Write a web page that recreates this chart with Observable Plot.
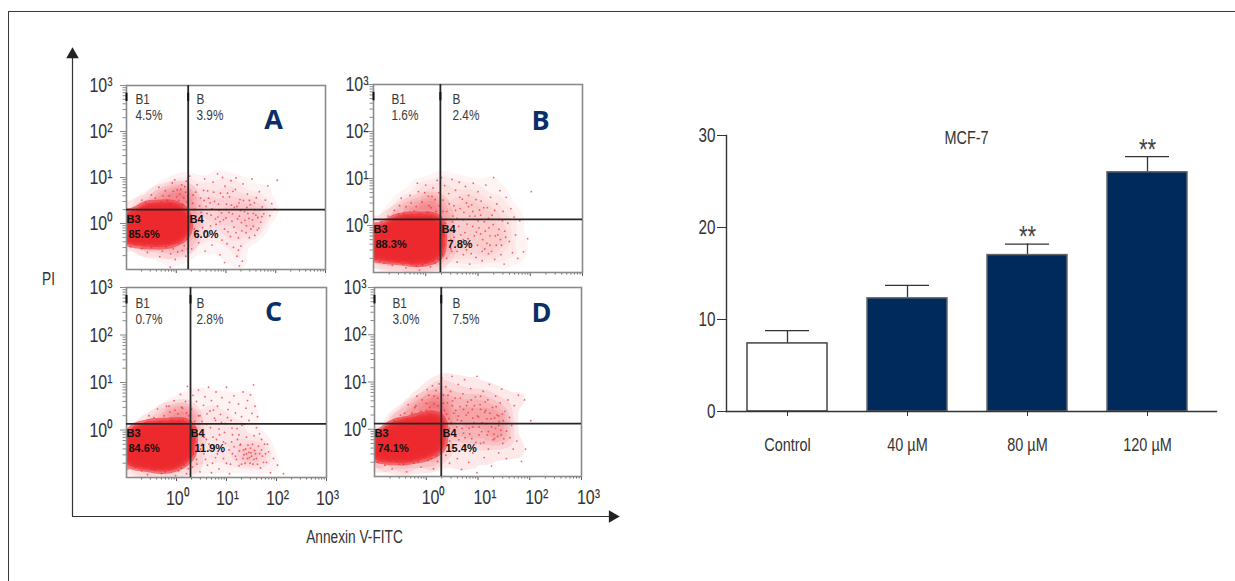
<!DOCTYPE html>
<html><head><meta charset="utf-8">
<script src="https://cdn.jsdelivr.net/npm/d3@7"></script>
<script src="https://cdn.jsdelivr.net/npm/@observablehq/plot@0.6"></script>
<style>
html,body{margin:0;padding:0;background:#fff;width:1235px;height:581px;overflow:hidden}
#stage{position:relative;width:1235px;height:581px;overflow:hidden}
#border{position:absolute;left:8px;top:11px;width:1300px;height:700px;border-left:1.2px solid #3a3a3a;border-top:1.2px solid #3a3a3a}
</style></head><body><div id="stage"><div id="border"></div></div>
<script>
// --- bar chart values ---
const groups = ["Control","40 µM","80 µM","120 µM"];
const means = [7.4,12.3,17.0,26.0];
const upper = [8.8,13.7,18.2,27.7];
const stars = ["","","**","**"];
const barTicks = [0,10,20,30];
// --- flow cytometry axes ---
const decades = [1,10,100,1000];
const decadeLabels = ["10⁰","10¹","10²","10³"];
const logMinor = [.2,.3,.4,.5,.6,.7,.8,.9,2,3,4,5,6,7,8,9,20,30,40,50,60,70,80,90,200,300,400,500,600,700,800,900];
// --- quadrant percentages (B1, B, B3, B4) ---
const pctA = ["4.5%","3.9%","85.6%","6.0%"];
const pctB = ["1.6%","2.4%","88.3%","7.8%"];
const pctC = ["0.7%","2.8%","84.6%","11.9%"];
const pctD = ["3.0%","7.5%","74.1%","15.4%"];
// --- quadrant gates, as decades ---
const gateA = [.24,.30], gateB = [.28,.13], gateC = [.28,.13], gateD = [.29,.12];
// --- events of the saturated population, as decades ---
const coreA = [[-1.15,-.15],[-1.15,.02],[-.95,-.2],[-.95,0],[-.78,-.24],[-.78,0],[-.6,-.24],[-.6,.04],[-.6,.2],[-.42,-.26],[-.42,-.03],[-.42,.2],[-.24,-.26],[-.24,-.03],[-.24,.22],[-.07,-.22],[-.07,.02],[-.07,.22],[.06,-.12],[.06,.1]];
const coreB = [[-1.15,-.45],[-1.15,-.25],[-.95,-.48],[-.95,-.25],[-.76,-.5],[-.76,-.25],[-.58,-.55],[-.58,-.3],[-.58,-.06],[-.4,-.55],[-.4,-.28],[-.4,-.02],[-.22,-.58],[-.22,-.3],[-.22,-.03],[-.04,-.58],[-.04,-.3],[-.04,-.03],[.14,-.5],[.14,-.25],[.14,-.02]];
const coreC = [[-.92,-.5],[-.92,-.3],[-.75,-.55],[-.75,-.3],[-.75,-.12],[-.56,-.6],[-.56,-.32],[-.56,-.07],[-.38,-.62],[-.38,-.35],[-.38,-.07],[-.2,-.62],[-.2,-.35],[-.2,-.07],[-.02,-.58],[-.02,-.3],[-.02,-.04],[.14,-.45],[.14,-.2],[.14,-.02]];
const coreD = [[-.94,-.42],[-.94,-.28],[-.76,-.46],[-.76,-.24],[-.58,-.47],[-.58,-.24],[-.58,-.04],[-.4,-.47],[-.4,-.24],[-.4,-.02],[-.22,-.44],[-.22,-.2],[-.22,.02],[-.04,-.4],[-.04,-.16],[-.04,.08],[.16,-.3],[.16,-.08],[.16,.12]];
// --- events of the paler surrounding population, as decades ---
const haloA = [[-1.1,.2],[-.7,.34],[-.35,.55],[-.05,.66],[.2,.6],[.28,.3],[.28,-.2],[.15,-.45],[-.2,-.52],[-.6,-.48],[-1.1,-.4],[-.2,.42],[.08,.42],[.24,.05]];
const haloB = [[-1,-.05],[-.6,.16],[-.3,.36],[0,.45],[.24,.42],[.32,.1],[.34,-.5],[.2,-.72],[-.2,-.8],[-.65,-.74],[-1,-.65],[.1,.22],[-.15,.2],[.3,-.25]];
const haloC = [[-.98,-.1],[-.55,.12],[-.2,.32],[.12,.4],[.28,.25],[.34,-.3],[.3,-.7],[-.1,-.85],[-.6,-.84],[-1,-.7],[.1,.2],[.3,-.05],[-.2,.12]];
const haloD = [[-1,-.15],[-.55,.14],[-.25,.42],[.05,.58],[.26,.5],[.34,.1],[.34,-.4],[.1,-.66],[-.4,-.72],[-.85,-.66],[-1,-.6],[-.1,.28],[.14,.36],[.3,.28]];
// --- scattered events, as decades ---
const dotsA = [[-.55,.42],[-.42,.55],[-.3,.47],[-.22,.71],[-.14,.6],[-.08,.88],[-.03,.95],[.02,.73],[.07,.64],[.11,.84],[.15,.56],[.19,.68],[.21,.47],[-.48,.38],[-.61,.36],[-.78,.29],[-.69,.51],[-.35,.79],[-.12,.43],[.05,.5],[.13,.41],[.2,.92],[-.92,-.5],[-.7,-.55],[-.58,-.63],[-.41,-.47],[-.33,-.72],[-.2,-.51],[-.11,-.66],[-.02,-.78],[.05,-.43],[.12,-.59],[.19,-.71],[.22,-.34],[.27,1.03],[.34,.62],[.37,.31],[.42,.84],[.46,.12],[.49,.55],[.53,-.09],[.57,.97],[.6,.37],[.63,.71],[.66,-.27],[.7,.18],[.74,.9],[.77,.48],[.8,-.02],[.83,1.08],[.86,.29],[.89,.66],[.92,-.36],[.95,.08],[.98,.81],[1.01,.42],[1.04,-.18],[1.07,.58],[1.1,.93],[1.13,.21],[1.16,-.08],[1.19,.74],[1.22,.37],[1.25,-.31],[1.28,.52],[1.31,.02],[1.34,.86],[1.37,.26],[1.4,-.2],[1.43,.64],[1.46,.11],[1.49,.41],[1.52,.97],[1.55,-.06],[1.58,.3],[1.61,.56],[1.64,.13],[1.67,.69],[1.7,.03],[1.73,.36],[1.76,.21],[1.79,.51],[1.84,.82],[1.88,.17],[1.92,.43],[1.98,.31],[2.03,.94],[.31,-.55],[.45,-.42],[.58,-.6],[.72,-.47],[.88,-.68],[1.02,-.44],[1.15,-.52],[1.22,-.71],[1.25,-.58],[1.3,-.49],[1.33,-.82],[.97,-.85],[1.27,-.92],[-.12,-.95],[.4,.03],[.5,.24],[.68,.45],[.84,.14],[1,.3],[1.12,.05],[1.27,.16],[1.42,.35],[1.55,.22],[1.66,-.1],[1.47,-.31],[1.58,-.26],[.55,.72],[.93,1],[1.2,.99],
 [.28,.15],[.33,.44],[.36,-.12],[.39,.68],[.43,-.3],[.47,.38],[.52,.05],[.56,.5],[.59,-.18],[.62,.22],[.65,.55],[.69,-.05],[.72,.32],[.75,.68],[.79,.1],[.82,-.22],[.85,.42],[.88,.04],[.91,.23],[.94,.58],[.97,-.12],[1,.12],[1.03,.66],[1.06,.24],[1.09,-.28],[1.11,.4],[1.14,.7],[1.17,.35],[1.2,-.2],[1.23,.1],[1.26,.45],[1.29,.28],[1.32,-.16],[1.35,.5],[1.38,.07],[1.41,-.05],[1.44,.22],[1.47,.5],[1.5,-.12],[1.53,.08],[1.57,.45],[1.6,.18],[1.63,-.14],[1.68,.3],[1.72,.15],[-.9,.25],[-.62,.46],[-.5,.62],[-.38,.36],[-.27,.6],[-.18,.5],[-.06,.7],[.01,.58],[.09,.74],[.17,.8],[.23,.6],[-.85,-.42],[-.64,-.46],[-.5,-.52],[-.28,-.6],[-.16,-.42],[-.06,-.55],[.03,-.62],[.16,-.48],[.23,-.55]];
const dotsB = [[-.72,.2],[-.6,.32],[-.47,.58],[-.38,.4],[-.3,.64],[-.22,.31],[-.14,.72],[-.07,.5],[0,.86],[.05,.62],[.1,.38],[.14,.8],[.18,.55],[.22,.96],[.25,.7],[.26,.42],[-.52,.25],[-.16,.9],[-.35,.2],[.03,.28],[-.95,-.72],[-.8,-.8],[-.64,-.85],[-.5,-.76],[-.38,-.9],[-.26,-.82],[-.12,-.95],[0,-.78],[.09,-.88],[.18,-.8],[.3,1.02],[.33,.54],[.36,.85],[.4,.3],[.44,.68],[.47,-.08],[.5,.98],[.54,.42],[.57,.75],[.6,.15],[.64,.92],[.67,-.2],[.7,.56],[.73,.28],[.76,.83],[.79,.03],[.82,.64],[.85,-.38],[.88,.44],[.91,.9],[.94,.2],[.97,-.14],[1,.72],[1.03,.33],[1.06,.52],[1.09,-.3],[1.12,.08],[1.15,.86],[1.18,.38],[1.21,-.05],[1.24,.6],[1.27,.22],[1.3,1.02],[1.33,-.22],[1.36,.46],[1.39,.13],[1.42,.74],[1.45,-.42],[1.48,.3],[1.51,-.12],[1.54,.6],[1.57,.05],[1.6,-.34],[1.63,.36],[1.66,-.58],[1.69,.18],[1.72,-.2],[1.76,-.7],[1.8,.1],[1.87,-.56],[1.95,-.28],[2.02,.72],[.32,-.62],[.4,-.7],[.5,-.55],[.6,-.78],[.72,-.62],[.84,-.82],[.96,-.68],[1.08,-.75],[1.2,-.6],[1.32,-.72],[1.44,-.62],[1.5,-.82],[.38,.05],[.55,-.12],[.72,-.3],[.9,-.02],[1.05,-.18],[1.23,-.42],[1.38,-.2],[.62,-.4],[.78,-.52],[.48,-.3],[1.13,-.5],[.34,-.2],[.82,.4],[1,.1],[.65,.6],[.52,.2],
 [.3,.02],[.33,.3],[.36,-.42],[.39,.12],[.42,-.12],[.45,.46],[.48,-.5],[.51,.08],[.54,-.25],[.57,.32],[.6,-.55],[.63,-.02],[.66,.36],[.69,-.45],[.72,.12],[.75,-.15],[.78,.48],[.81,-.28],[.84,.2],[.87,-.6],[.9,.3],[.93,-.22],[.96,.55],[.99,-.42],[1.02,-.05],[1.05,.22],[1.08,-.55],[1.11,.38],[1.14,-.12],[1.17,-.38],[1.2,.15],[1.23,-.22],[1.26,-.55],[1.29,.02],[1.32,.32],[1.35,-.42],[1.4,-.08],[1.43,-.3],[1.47,.1],[1.53,-.25],[-.85,.08],[-.62,.12],[-.5,.42],[-.42,.24],[-.28,.48],[-.18,.4],[-.1,.24],[-.02,.7],[.06,.42],[.12,.62],[.2,.3],[-.88,-.76],[-.72,-.72],[-.56,-.72],[-.44,-.82],[-.3,-.76],[-.18,-.86],[-.06,-.84],[.05,-.74],[.13,-.76],[.24,-.72]];
const dotsC = [[-.6,.14],[-.45,.26],[-.32,.18],[-.2,.5],[-.1,.22],[-.05,.62],[.03,.34],[.08,.75],[.13,.22],[.18,.6],[.22,.92],[.25,.3],[-.38,.44],[-.13,.38],[.1,.48],[-.97,-.82],[-.82,-.78],[-.7,-.86],[-.58,-.94],[-.44,-.84],[-.3,-.92],[-.16,-.82],[-.02,-.96],[.1,-.8],[.2,-.92],[.3,.44],[.33,.73],[.36,.18],[.4,.6],[.44,.84],[.47,.3],[.5,-.05],[.54,.52],[.57,.7],[.6,.12],[.64,.9],[.67,.4],[.7,.62],[.73,-.15],[.76,.25],[.79,.8],[.82,.5],[.85,.02],[.88,.33],[.91,.68],[.94,-.25],[.97,.14],[1,.9],[1.03,.43],[1.06,.58],[1.09,.2],[1.12,-.1],[1.15,.72],[1.18,.36],[1.21,.03],[1.24,.55],[1.27,-.32],[1.3,.28],[1.33,.8],[1.36,.12],[1.39,.46],[1.42,.62],[1.45,.2],[1.48,.74],[1.51,.35],[1.54,.95],[1.57,.5],[1.6,.05],[1.62,.28],[1.66,-.08],[1.7,-.2],[.32,-.78],[.4,-.62],[.47,-.88],[.55,-.5],[.62,-.74],[.7,-.9],[.78,-.58],[.85,-.82],[.92,-.46],[1,-.7],[1.06,-.92],[1.12,-.5],[1.2,-.62],[1.26,-.44],[1.3,-.72],[1.35,-.52],[1.38,-.4],[1.42,-.6],[1.45,-.47],[1.48,-.38],[1.5,-.55],[1.53,-.72],[1.56,-.43],[1.6,-.6],[1.64,-.34],[1.68,-.8],[1.72,-.55],[1.76,-.3],[1.8,-.68],[1.84,-.46],[1.88,-.9],[1.94,-.6],[2.02,-.74],[2.14,-.92],[.38,-.25],[.52,-.3],[.66,-.42],[.8,-.2],[.96,-.05],[1.1,-.25],[1.25,-.1],[1.4,-.15],[1.55,-.12],[1.33,-.6],[1.47,-.7],[.6,-.2],[.74,.42],
 [.3,-.1],[.34,-.5],[.37,.06],[.41,-.72],[.44,.3],[.48,-.4],[.51,.18],[.55,-.15],[.58,-.62],[.61,.34],[.65,-.3],[.68,.05],[.72,-.7],[.75,-.35],[.78,.2],[.82,-.5],[.86,-.1],[.9,.16],[.94,-.6],[.98,-.28],[1.02,.26],[1.05,-.42],[1.08,-.72],[1.11,.04],[1.15,-.35],[1.18,-.55],[1.22,-.2],[1.25,-.75],[1.28,-.3],[1.31,.1],[1.34,-.42],[1.37,-.7],[1.4,-.5],[1.43,-.32],[1.46,-.58],[1.49,-.48],[1.52,-.3],[1.55,-.62],[1.58,-.5],[1.62,-.72],[1.66,-.5],[1.7,-.42],[1.74,-.68],[1.78,-.5],[1.82,-.3],[-.8,.02],[-.55,.3],[-.42,.12],[-.25,.3],[-.15,.5],[-.03,.42],[.05,.2],[.12,.46],[.2,.36],[-.88,-.74],[-.66,-.78],[-.5,-.82],[-.34,-.78],[-.22,-.88],[-.08,-.8],[.04,-.86],[.15,-.74],[.24,-.82]];
const dotsD = [[-.7,.1],[-.55,.22],[-.42,.34],[-.3,.2],[-.22,.46],[-.15,.28],[-.08,.62],[0,.4],[.05,.72],[.1,.3],[.15,.54],[.19,.82],[.22,.66],[.25,.96],[.27,.38],[-.35,.52],[-.18,.7],[.02,.84],[-.5,.16],[.12,.92],[-.94,-.7],[-.8,-.76],[-.66,-.84],[-.52,-.74],[-.38,-.9],[-.24,-.72],[-.1,-.8],[.04,-.66],[.14,-.84],[.22,-.68],[.3,1.08],[.33,.72],[.35,.4],[.38,.9],[.41,.56],[.44,.22],[.47,.8],[.5,1.12],[.53,.34],[.56,.66],[.59,.05],[.62,.95],[.65,.48],[.68,.18],[.71,.75],[.74,1.05],[.77,.3],[.8,.58],[.83,.02],[.86,.86],[.89,.42],[.92,.14],[.95,.68],[.98,1.12],[1.01,.26],[1.04,.52],[1.07,-.05],[1.1,.8],[1.13,.36],[1.16,.12],[1.19,.62],[1.22,.95],[1.25,.22],[1.28,.46],[1.31,-.1],[1.34,.7],[1.37,.3],[1.4,.08],[1.43,.56],[1.46,.85],[1.49,.18],[1.52,.38],[1.55,-.04],[1.58,.62],[1.61,.25],[1.65,.08],[1.7,.5],[1.78,.72],[1.9,.62],[2.02,.18],[.32,-.3],[.38,-.55],[.45,-.72],[.52,-.4],[.6,-.62],[.68,-.85],[.75,-.35],[.82,-.7],[.9,-.5],[.98,-.92],[1.05,-.3],[1.12,-.6],[1.2,-.42],[1.26,-.78],[1.32,-.2],[1.4,-.5],[1.48,-.3],[1.55,-.62],[1.62,-.18],[1.68,-.42],[1.75,-.25],[1.84,-.68],[1.92,-.42],[.45,.02],[.58,-.15],[.72,-.08],[.88,-.2],[1.02,.05],[1.18,-.12],[1.34,.02],[1.45,-.12],[.62,.28],[.9,.24],[1.15,.4],[1.4,.28],[.5,.5],[.78,.5],[1.05,.7],
 [.3,.1],[.33,.55],[.36,-.12],[.39,.32],[.42,.72],[.45,-.25],[.48,.14],[.51,.6],[.54,-.05],[.57,.4],[.6,.2],[.63,-.22],[.66,.66],[.69,.02],[.72,.42],[.75,-.18],[.78,.12],[.81,.35],[.84,-.1],[.87,.62],[.9,.05],[.93,.5],[.96,-.28],[.99,.28],[1.02,-.12],[1.05,.42],[1.08,.14],[1.11,-.28],[1.14,.58],[1.17,.22],[1.2,-.05],[1.23,.34],[1.26,.05],[1.29,-.22],[1.32,.24],[1.35,.48],[1.38,-.15],[1.41,.16],[1.44,-.02],[1.47,.32],[1.5,-.2],[1.53,.12],[-.78,.04],[-.62,.18],[-.5,.3],[-.38,.22],[-.28,.34],[-.2,.5],[-.1,.38],[0,.55],[.07,.46],[.15,.7],[.23,.5],[-.88,-.6],[-.72,-.66],[-.56,-.68],[-.44,-.74],[-.3,-.66],[-.16,-.68],[-.03,-.58],[.09,-.62],[.2,-.56]];

// --- colours and fonts ---
const narrow = "'Liberation Sans Narrow','Liberation Sans',sans-serif";
const navy = "#012a5c", red = "#ec2a2e";
const stage = document.getElementById("stage");
const lx = d => 10 ** d[0], ly = d => 10 ** d[1];

function place(svg, left, top) {
  svg.style.position = "absolute";
  svg.style.left = left + "px";
  svg.style.top = top + "px";
  svg.style.background = "transparent";
  svg.style.overflow = "visible";
  stage.appendChild(svg);
}

function panel(o) {
  const mL = 40, mT = 16, mB = 40, mR = 20;
  const w = o.right - o.left, h = o.bottom - o.top;
  const tag = (t, dx, dy, extra = {}) => Plot.text([t], {frameAnchor: "top-left", dx, dy, textAnchor: "start", lineAnchor: "middle", fontFamily: narrow, fontSize: 15.5, fill: "#3a3a3a", ...extra});
  const bold = {fontFamily: "'Liberation Sans',sans-serif", fontWeight: "bold", fontSize: 11, fill: "#111"};
  const marks = [
    Plot.density(o.dots, {x: lx, y: ly, bandwidth: 5, thresholds: 6, fill: red, fillOpacity: o.haze, stroke: "none", clip: true}),
    Plot.density(o.halo, {x: lx, y: ly, bandwidth: 6, thresholds: 6, fill: red, fillOpacity: 0.1, stroke: "none", clip: true}),
    Plot.density(o.core, {x: lx, y: ly, bandwidth: 5, thresholds: 14, fill: red, fillOpacity: 0.6, stroke: "none", clip: true}),
    Plot.dot(o.dots, {x: lx, y: ly, r: 0.9, fill: red, fillOpacity: 0.7, stroke: "none"}),
    Plot.axisY({ticks: logMinor, tickSize: 3.5, fill: "none", stroke: "#8a8a8a", label: null}),
    Plot.axisY({ticks: decades, tickSize: 6, fill: "none", stroke: "#8a8a8a", label: null}),
    Plot.axisX({ticks: logMinor, tickSize: 2.5, fill: "none", stroke: "#666", label: null}),
    Plot.axisX({ticks: decades, tickSize: 4, fill: "none", stroke: "#555", label: null}),
    Plot.frame({stroke: "#8a8a8a", strokeWidth: 1.6}),
    Plot.ruleX([10 ** o.gate[0]], {stroke: "#262626", strokeWidth: 1.8}),
    Plot.ruleY([10 ** o.gate[1]], {stroke: "#262626", strokeWidth: 1.8}),
    Plot.ruleX([0.1, 10 ** o.gate[0]], {y1: 450, y2: 680, stroke: "#111", strokeWidth: 2}),
    Plot.text(decades, {y: d => d, text: (d, i) => decadeLabels[i], frameAnchor: "left", dx: -o.yGap, dy: 0, textAnchor: "end", fontFamily: narrow, fontSize: 21, fill: "#333"}),
    tag("B1", o.t[0], o.t[1]), tag(o.pct[0], o.t[0], o.t[1] + 16),
    tag("B", o.t[2], o.t[1]), tag(o.pct[1], o.t[2], o.t[1] + 16),
    tag("B3", o.b[0], o.b[1], bold), tag(o.pct[2], o.b[0] + o.b[3], o.b[1] + 15, bold),
    tag("B4", o.b[2], o.b[1], bold), tag(o.pct[3], o.b[2] + o.b[4], o.b[1] + 15, bold),
    Plot.text([o.letter], {frameAnchor: "top-left", dx: o.l[0], dy: o.l[1], textAnchor: "middle", lineAnchor: "middle", fontFamily: "'Open Sans',sans-serif", fontWeight: "bold", fontSize: 27, fill: "#0a2f66"})
  ];
  if (o.xLabels) {
    marks.push(Plot.text(decades, {x: d => d, text: (d, i) => decadeLabels[i], frameAnchor: "bottom", dx: o.xShift, dy: 27, textAnchor: "middle", fontFamily: narrow, fontSize: 21, fill: "#333"}));
  }
  place(Plot.plot({
    width: w + mL + mR, height: h + mT + mB,
    marginLeft: mL, marginRight: mR, marginTop: mT, marginBottom: mB,
    x: {type: "log", domain: [0.1, 1000], axis: null},
    y: {type: "log", domain: [0.1, 1000], axis: null},
    marks
  }), o.left - mL, o.top - mT);
}

panel({letter: "A", left: 126, right: 325, top: 85, bottom: 269, core: coreA, halo: haloA, dots: dotsA, gate: gateA, pct: pctA, haze: 0.055, yGap: 14, t: [9, 14, 70], b: [0, 134, 63, 2, 4], l: [147, 35]});
panel({letter: "B", left: 373, right: 582, top: 84, bottom: 272, core: coreB, halo: haloB, dots: dotsB, gate: gateB, pct: pctB, haze: 0.05, yGap: 5, t: [18, 15, 79], b: [0, 145, 68, 2, 6], l: [167, 37]});
panel({letter: "C", left: 126, right: 326, top: 287, bottom: 477, core: coreC, halo: haloC, dots: dotsC, gate: gateC, pct: pctC, haze: 0.06, yGap: 14, t: [9, 16, 70], b: [0, 146, 64, 2, 4], l: [147, 25], xLabels: true, xShift: 1});
panel({letter: "D", left: 374, right: 581, top: 287, bottom: 476, core: coreD, halo: haloD, dots: dotsD, gate: gateD, pct: pctD, haze: 0.1, yGap: 8, t: [18, 16, 78], b: [0, 146, 68, 3, 3], l: [167, 26], xLabels: true, xShift: 7});

// --- shared outer axes ---
place(Plot.plot({
  width: 623, height: 530, marginLeft: 72, marginRight: 8, marginTop: 50, marginBottom: 14,
  x: {domain: [0, 1], axis: null}, y: {domain: [0, 1], axis: null},
  marks: [
    Plot.ruleX([0], {stroke: "#333", strokeWidth: 1.2}),
    Plot.ruleY([0], {stroke: "#333", strokeWidth: 1.2}),
    Plot.dot([{x: 0, y: 1}], {x: "x", y: "y", symbol: "triangle2", r: 6, fill: "#222", dy: 4}),
    Plot.dot([{x: 1, y: 0}], {x: "x", y: "y", symbol: "triangle2", r: 6, fill: "#222", rotate: 90, dx: -3})
  ]
}), 0, 0);
place(Plot.plot({
  width: 1235, height: 581, margin: 0,
  x: {domain: [0, 1], axis: null}, y: {domain: [0, 1], axis: null},
  marks: [
    Plot.text(["PI"], {frameAnchor: "top-left", dx: 48, dy: 279, textAnchor: "middle", fontFamily: narrow, fontSize: 18, fill: "#333", lineAnchor: "middle"}),
    Plot.text(["Annexin V-FITC"], {frameAnchor: "top-left", dx: 354, dy: 537, textAnchor: "middle", fontFamily: narrow, fontSize: 18, fill: "#333", lineAnchor: "middle"})
  ]
}), 0, 0);

// --- bar chart ---
const bars = groups.map((g, i) => ({g, v: means[i], u: upper[i], s: stars[i], white: g === "Control"}));
place(Plot.plot({
  width: 545, height: 371, marginLeft: 46, marginRight: 9, marginTop: 35, marginBottom: 60,
  x: {type: "band", domain: groups, range: [66, 508.2], paddingInner: 0.33, paddingOuter: 0, axis: null},
  y: {domain: [0, 30], axis: null},
  marks: [
    Plot.ruleX(bars, {x: "g", y1: "v", y2: "u", stroke: "#333", strokeWidth: 1.3}),
    Plot.tickY(bars, {x: "g", y: "u", stroke: "#333", strokeWidth: 1.3, insetLeft: 18, insetRight: 18}),
    Plot.barY(bars, {x: "g", y: "v", fill: d => d.white ? "#fff" : navy, stroke: d => d.white ? "#444" : "#666", strokeWidth: 1.5}),
    Plot.frame({anchor: "left", stroke: "#333", strokeWidth: 1.4}),
    Plot.frame({anchor: "bottom", stroke: "#333", strokeWidth: 1.4}),
    Plot.axisX({tickSize: 5, stroke: "#333", tickPadding: 21, fontFamily: narrow, fontSize: 19, fill: "#333", label: null}),
    Plot.axisY({ticks: barTicks, tickSize: 9, stroke: "#333", tickPadding: 2, fontFamily: narrow, fontSize: 20, fill: "#333", label: null}),
    Plot.text(bars.filter(d => d.s), {x: "g", y: "u", text: "s", dy: -7, fontFamily: narrow, fontSize: 29, fill: "#444"}),
    Plot.text(["MCF-7"], {frameAnchor: "top-left", dx: 240, dy: 2, textAnchor: "middle", fontFamily: narrow, fontSize: 19, fill: "#333", lineAnchor: "middle"})
  ]
}), 680, 100);

// --- the reference face is condensed: squeeze each narrow label horizontally ---
stage.querySelectorAll("text").forEach(t => {
  if (getComputedStyle(t).fontWeight === "700") return;
  const len = t.getComputedTextLength();
  if (len > 0) { t.setAttribute("textLength", (len * 0.76).toFixed(1)); t.setAttribute("lengthAdjust", "spacingAndGlyphs"); }
});
</script></body></html>
